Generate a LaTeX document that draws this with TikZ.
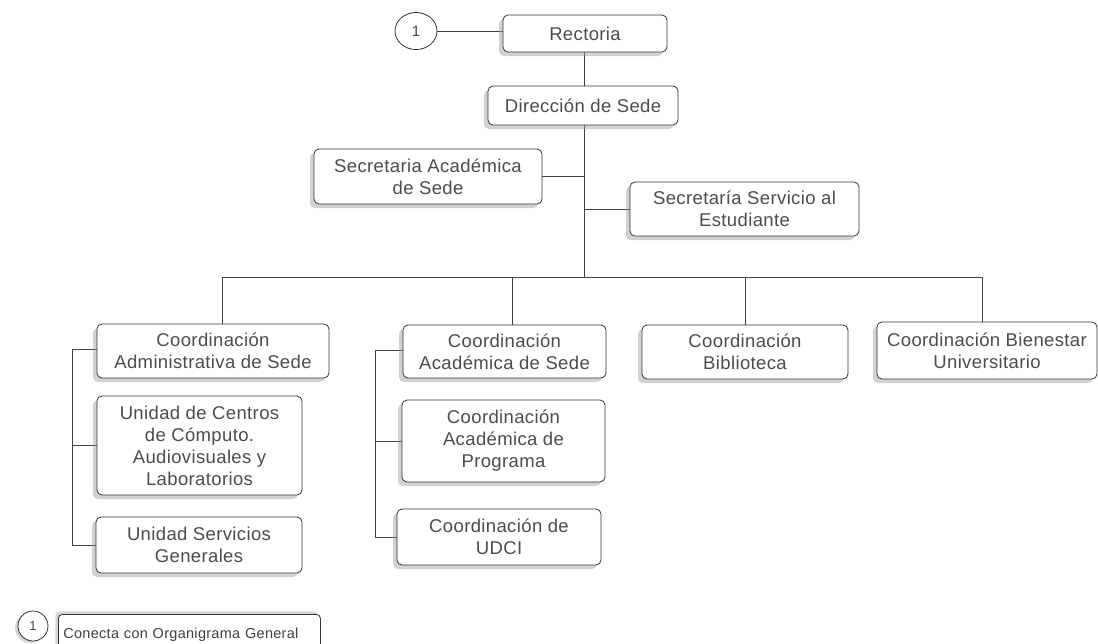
\documentclass[tikz,border=0pt]{standalone}
\usepackage{fontspec}
\setmainfont{Liberation Sans}[LetterSpace=2]
\usetikzlibrary{shadows,shapes.geometric,backgrounds}
\newcommand\obox[6]{\node[org, minimum width={#4-#2}, minimum height={#5-#3}] (#1) at ({(#2+#4)/2},{(#3+#5)/2}) {#6};}
\begin{document}
\begin{tikzpicture}[x=1pt,y=-1pt,
  org/.style={draw=black!80, line width=0.8pt, rounded corners=5pt, fill=white, align=center,
    text=black!70, font=\fontsize{18.5}{22}\selectfont, inner sep=0pt,
    drop shadow={shadow xshift=-4pt, shadow yshift=-4pt, fill=black!40, opacity=0.45}},
  conn/.style={draw=black!75, line width=0.8pt},
  numc/.style={draw=black!80, line width=0.8pt, ellipse, fill=white, text=black!75, inner sep=0pt}]
\useasboundingbox (0,0) rectangle (1098,643);

% top
\node[numc, minimum width=42, minimum height=37, font=\fontsize{15}{18}\selectfont] (c1) at (416,31) {1};
\obox{rect}{503}{15}{667}{52}{Rectoria}
\obox{dir}{488}{86}{678}{125}{Dirección de Sede}
\obox{sa}{314}{149}{542}{204}{Secretaria Académica\\de Sede}
\obox{ss}{630}{182}{859}{236}{Secretaría Servicio al\\Estudiante}

% second row
\obox{adm}{97}{324}{329}{378}{Coordinación\\Administrativa de Sede}
\obox{ac}{403}{325}{606}{378}{Coordinación\\Académica de Sede}
\obox{bib}{642}{325}{848}{379}{Coordinación\\Biblioteca}
\obox{bien}{877}{322}{1097}{379}{Coordinación Bienestar\\Universitario}

% sub units
\obox{ucc}{97}{396}{302}{495}{Unidad de Centros\\de Cómputo.\\Audiovisuales y\\Laboratorios}
\obox{usg}{96}{517}{302}{573}{Unidad Servicios\\Generales}
\obox{acp}{402}{400}{605}{482}{Coordinación\\Académica de\\Programa}
\obox{udci}{397}{509}{601}{565}{Coordinación de\\UDCI}

% legend
\node[numc, minimum width=30, minimum height=30, font=\fontsize{13}{15}\selectfont,
  drop shadow={shadow xshift=-3pt, shadow yshift=-2pt, fill=black!40, opacity=0.4}] (c2) at (33,626) {1};
\node[draw=black!80, line width=0.8pt, rounded corners=4pt, fill=white, text=black!75,
  font=\fontsize{14.5}{17}\selectfont, anchor=north west, minimum width=262, minimum height=40,
  text width=252, inner xsep=5pt, inner ysep=5pt, align=left,
  drop shadow={shadow xshift=-3pt, shadow yshift=3pt, fill=black!40, opacity=0.4}] (leg) at (58,614) {Conecta con Organigrama General};

% coordinates for the bus
\coordinate (trunk) at (584,277);
\coordinate (d1) at (222,277);
\coordinate (d2) at (512,277);
\coordinate (d3) at (745,277);
\coordinate (d4) at (982,277);
\coordinate (l1) at (72,349);
\coordinate (l2) at (375,350);

% connectors
\begin{scope}[on background layer]
\fill[white] (0,0) rectangle (1098,643);
\draw[conn] (c1.east) -- (c1.east -| rect.west);
\draw[conn] (rect.south -| trunk) -- (dir.north -| trunk);
\draw[conn] (dir.south -| trunk) -- (trunk);
\draw[conn] (sa.east) -- (sa.east -| trunk);
\draw[conn] (ss.west -| trunk) -- (ss.west);
\draw[conn] (d1) -- (d4);
\draw[conn] (d1) -- (d1 |- adm.north);
\draw[conn] (d2) -- (d2 |- ac.north);
\draw[conn] (d3) -- (d3 |- bib.north);
\draw[conn] (d4) -- (d4 |- bien.north);
\draw[conn] (adm.west |- l1) -- (l1) -- (l1 |- usg.west) -- (usg.west);
\draw[conn] (ucc.west) -- (ucc.west -| l1);
\draw[conn] (ac.west |- l2) -- (l2) -- (l2 |- udci.west) -- (udci.west);
\draw[conn] (acp.west) -- (acp.west -| l2);
\end{scope}
\end{tikzpicture}
\end{document}
